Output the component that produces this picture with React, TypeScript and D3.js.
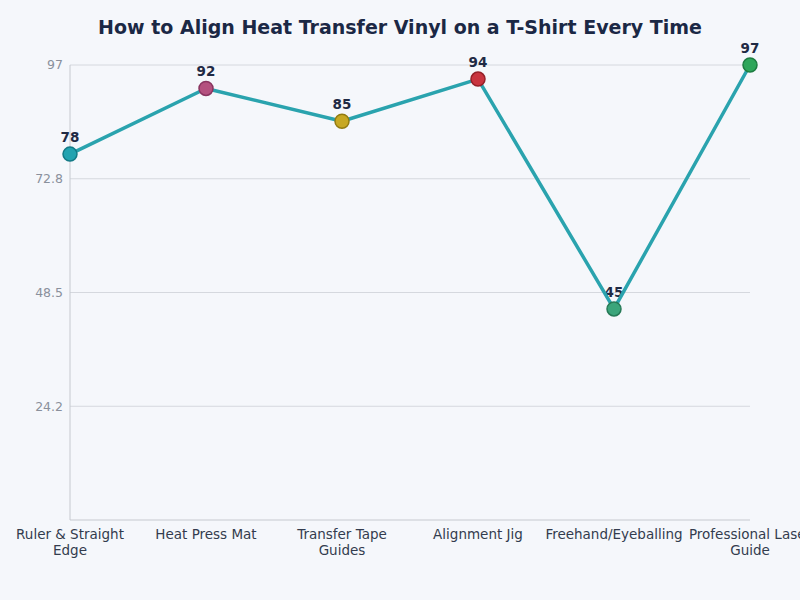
import React, { useEffect, useRef } from "react";
import * as d3 from "d3";

const categories = [
  "Ruler & Straight Edge",
  "Heat Press Mat",
  "Transfer Tape Guides",
  "Alignment Jig",
  "Freehand/Eyeballing",
  "Professional Laser Guide",
];
const values = [78, 92, 85, 94, 45, 97];
const pointColors = ["#22a3b0", "#b4517f", "#c7a823", "#c9343f", "#3ba57b", "#2ea65a"];
const pointStrokes = ["#137a86", "#8a3560", "#927b12", "#952028", "#267a57", "#1d7c40"];
const yTicks = [24.25, 48.5, 72.75, 97];
const yTickLabels = ["24.2", "48.5", "72.8", "97"];

const W = 800;
const H = 600;
const M = { left: 70, right: 50, top: 65, bottom: 80 };

export default function App() {
  const ref = useRef<SVGSVGElement>(null);

  useEffect(() => {
    const svg = d3.select(ref.current);
    svg.selectAll("*").remove();

    svg.append("rect").attr("width", W).attr("height", H).attr("fill", "#f5f7fb");

    const x = d3.scalePoint<string>().domain(categories).range([M.left, W - M.right]);
    const y = d3.scaleLinear().domain([0, 97]).range([H - M.bottom, M.top]);

    svg
      .append("text")
      .attr("x", W / 2)
      .attr("y", 34)
      .attr("text-anchor", "middle")
      .attr("font-family", "DejaVu Sans")
      .attr("font-weight", "bold")
      .attr("font-size", 19)
      .attr("fill", "#1b2845")
      .text("How to Align Heat Transfer Vinyl on a T-Shirt Every Time");

    const g = svg.append("g");
    yTicks.forEach((t, i) => {
      g.append("line")
        .attr("x1", M.left)
        .attr("x2", W - M.right)
        .attr("y1", y(t))
        .attr("y2", y(t))
        .attr("stroke", "#d5d8de")
        .attr("stroke-width", 1);
      g.append("text")
        .attr("x", M.left - 7)
        .attr("y", y(t))
        .attr("dy", "0.35em")
        .attr("text-anchor", "end")
        .attr("font-family", "DejaVu Sans")
        .attr("font-size", 12.5)
        .attr("fill", "#8a909c")
        .text(yTickLabels[i]);
    });

    g.append("line")
      .attr("x1", M.left)
      .attr("x2", M.left)
      .attr("y1", y(97))
      .attr("y2", y(0))
      .attr("stroke", "#c6c9cf");
    g.append("line")
      .attr("x1", M.left)
      .attr("x2", W - M.right)
      .attr("y1", y(0))
      .attr("y2", y(0))
      .attr("stroke", "#c6c9cf");

    categories.forEach((c) => {
      const t = g
        .append("text")
        .attr("x", x(c)!)
        .attr("y", y(0) + 19)
        .attr("text-anchor", "middle")
        .attr("font-family", "DejaVu Sans")
        .attr("font-size", 13.5)
        .attr("fill", "#333c4e");
      const words = c.split(" ");
      let line: string[] = [];
      let tspan = t.append("tspan").attr("x", x(c)!).attr("dy", 0);
      words.forEach((w) => {
        line.push(w);
        tspan.text(line.join(" "));
        if ((tspan.node() as SVGTSpanElement).getComputedTextLength() > 132 && line.length > 1) {
          line.pop();
          tspan.text(line.join(" "));
          line = [w];
          tspan = t.append("tspan").attr("x", x(c)!).attr("dy", "1.15em").text(w);
        }
      });
    });

    categories.forEach((c, i) => {
      g.append("text")
        .attr("x", x(c)!)
        .attr("y", y(values[i]) - 12)
        .attr("text-anchor", "middle")
        .attr("font-family", "DejaVu Sans")
        .attr("font-weight", "bold")
        .attr("font-size", 13.5)
        .attr("fill", "#1f2a44")
        .text(values[i]);
    });

    const line = d3
      .line<number>()
      .x((_, i) => x(categories[i])!)
      .y((d) => y(d));
    g.append("path")
      .attr("d", line(values)!)
      .attr("fill", "none")
      .attr("stroke", "#2aa3ae")
      .attr("stroke-width", 3.5)
      .attr("stroke-linejoin", "round");

    categories.forEach((c, i) => {
      g.append("circle")
        .attr("cx", x(c)!)
        .attr("cy", y(values[i]))
        .attr("r", 7)
        .attr("fill", pointColors[i])
        .attr("stroke", pointStrokes[i])
        .attr("stroke-width", 1.5);
    });
  }, []);

  return (
    <svg
      ref={ref}
      width={W}
      height={H}
      style={{ position: "absolute", left: 0, top: 0, display: "block" }}
    />
  );
}
